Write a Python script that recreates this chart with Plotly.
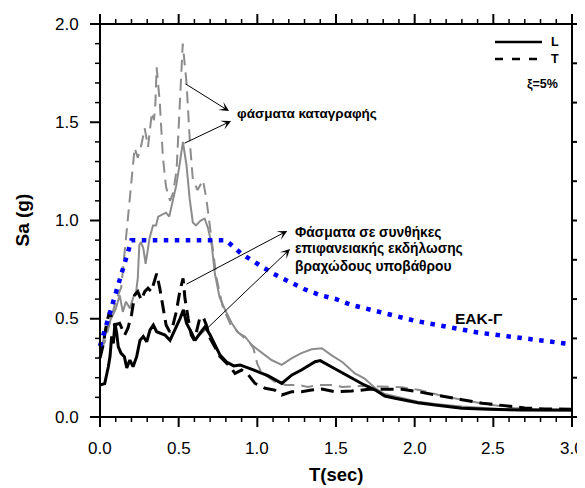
import plotly.graph_objects as go

# ---------------- data ----------------
# Recorded spectrum, T component (gray dashed)
rec_T_t = [0.00, 0.03, 0.07, 0.10, 0.135, 0.167, 0.20, 0.22, 0.24, 0.263, 0.284, 0.305, 0.33, 0.343,
           0.352, 0.36, 0.38, 0.40, 0.42, 0.445, 0.465, 0.487, 0.51, 0.526, 0.55, 0.572, 0.59, 0.62,
           0.655, 0.676, 0.697, 0.718, 0.74, 0.78, 0.83, 0.88, 0.95, 0.975, 1.0, 1.03, 1.05, 1.11,
           1.18, 1.26, 1.32, 1.39, 1.47, 1.54, 1.65, 1.78, 1.92, 2.03, 2.2, 2.42, 2.63, 2.84, 3.0]
rec_T_sa = [0.34, 0.38, 0.50, 0.59, 0.66, 0.91, 1.20, 1.37, 1.32, 1.385, 1.47, 1.375, 1.55, 1.51,
            1.595, 1.78, 1.60, 1.32, 1.17, 1.10, 1.14, 1.26, 1.61, 1.90, 1.70, 1.39, 1.21, 1.155,
            1.205, 1.11, 0.98, 0.84, 0.71, 0.56, 0.47, 0.43, 0.38, 0.35, 0.27, 0.22, 0.214, 0.18,
            0.163, 0.163, 0.153, 0.163, 0.163, 0.153, 0.158, 0.155, 0.151, 0.137, 0.103, 0.07, 0.046, 0.036, 0.035]

# Recorded spectrum, L component (gray solid)
rec_L_t = [0.00, 0.03, 0.07, 0.10, 0.125, 0.145, 0.165, 0.19, 0.21, 0.23, 0.24, 0.25, 0.26, 0.275,
           0.29, 0.315, 0.337, 0.356, 0.37, 0.40, 0.42, 0.44, 0.465, 0.485, 0.505, 0.527, 0.55, 0.57,
           0.59, 0.61, 0.64, 0.665, 0.687, 0.71, 0.73, 0.76, 0.795, 0.837, 0.877, 0.92, 0.964, 1.03,
           1.09, 1.155, 1.22, 1.28, 1.345, 1.41, 1.47, 1.54, 1.62, 1.68, 1.75, 1.81, 1.92, 2.02,
           2.13, 2.30, 2.63, 3.0]
rec_L_sa = [0.33, 0.42, 0.50, 0.55, 0.62, 0.535, 0.587, 0.553, 0.605, 0.64, 0.705, 0.875, 0.89, 0.86,
            0.78, 0.91, 0.975, 0.975, 1.02, 1.03, 1.04, 1.02, 1.11, 1.18, 1.28, 1.40, 1.28, 1.11,
            0.99, 0.975, 1.0, 1.01, 0.96, 0.875, 0.73, 0.61, 0.545, 0.478, 0.43, 0.41, 0.367, 0.325,
            0.29, 0.265, 0.30, 0.325, 0.345, 0.35, 0.315, 0.28, 0.222, 0.197, 0.146, 0.117, 0.095, 0.078,
            0.066, 0.053, 0.036, 0.032]

# Rock-outcrop spectrum, L component (black solid)
rock_L_t = [0.00, 0.03, 0.053, 0.064, 0.074, 0.085, 0.095, 0.106, 0.116, 0.133, 0.155, 0.17, 0.19,
            0.21, 0.233, 0.254, 0.275, 0.297, 0.318, 0.339, 0.36, 0.38, 0.413, 0.445, 0.477, 0.51,
            0.53, 0.55, 0.583, 0.604, 0.636, 0.668, 0.70, 0.73, 0.763, 0.805, 0.85, 0.89, 0.943,
            1.006, 1.07, 1.13, 1.155, 1.22, 1.28, 1.367, 1.40, 1.47, 1.54, 1.62, 1.68, 1.75, 1.81,
            1.875, 2.02, 2.13, 2.30, 2.47, 2.68, 3.0]
rock_L_sa = [0.163, 0.17, 0.256, 0.31, 0.41, 0.375, 0.478, 0.427, 0.358, 0.325, 0.307, 0.25, 0.29,
             0.256, 0.307, 0.39, 0.41, 0.383, 0.443, 0.468, 0.434, 0.427, 0.417, 0.39, 0.443, 0.503,
             0.545, 0.477, 0.427, 0.39, 0.427, 0.46, 0.417, 0.37, 0.315, 0.28, 0.26, 0.265, 0.25,
             0.23, 0.209, 0.18, 0.171, 0.214, 0.239, 0.281, 0.287, 0.256, 0.224, 0.188, 0.163, 0.137, 0.107,
             0.095, 0.073, 0.061, 0.044, 0.04, 0.035, 0.035]

# Rock-outcrop spectrum, T component (black dashed)
rock_T_t = [0.00, 0.02, 0.04, 0.06, 0.093, 0.125, 0.157, 0.178, 0.20, 0.22, 0.24, 0.263, 0.284, 0.305,
            0.326, 0.348, 0.36, 0.38, 0.40, 0.42, 0.443, 0.464, 0.485, 0.507, 0.528, 0.54, 0.56, 0.58,
            0.60, 0.634, 0.655, 0.676, 0.70, 0.763, 0.826, 0.858, 0.90, 0.943, 0.985, 1.05, 1.11,
            1.155, 1.22, 1.28, 1.345, 1.41, 1.49, 1.60, 1.71, 1.81, 1.92, 2.02, 2.13, 2.24, 2.30,
            2.43, 2.57, 2.70, 2.83, 3.0]
rock_T_sa = [0.30, 0.366, 0.468, 0.536, 0.468, 0.477, 0.417, 0.453, 0.519, 0.62, 0.638, 0.595, 0.638, 0.656,
             0.638, 0.706, 0.73, 0.655, 0.555, 0.468, 0.434, 0.468, 0.536, 0.638, 0.706, 0.604, 0.503, 0.417,
             0.39, 0.503, 0.51, 0.468, 0.40, 0.307, 0.256, 0.222, 0.239, 0.214, 0.171, 0.146, 0.137,
             0.112, 0.129, 0.129, 0.137, 0.142, 0.129, 0.132, 0.141, 0.141, 0.141, 0.129, 0.112, 0.095, 0.088,
             0.07, 0.056, 0.046, 0.041, 0.04]

# EAK design spectrum, ground category Γ (blue dotted)
eak_t = [0.00, 0.20, 0.80, 0.90, 1.00, 1.10, 1.20, 1.30, 1.40, 1.50, 1.60, 1.70, 1.80, 1.90, 2.00,
         2.20, 2.40, 2.60, 2.80, 3.00]
eak_sa = [0.36, 0.90, 0.90, 0.83, 0.78, 0.73, 0.69, 0.65, 0.62, 0.60, 0.57, 0.55, 0.53, 0.51, 0.49,
          0.46, 0.43, 0.41, 0.39, 0.37]

# axis extents and tick values
x_lim = [0.0, 3.0]
y_lim = [0.0, 2.0]
x_major = [0.0, 0.5, 1.0, 1.5, 2.0, 2.5, 3.0]
x_minor = [round(0.1 * i, 1) for i in range(31) if i % 5 != 0]
y_major = [0.0, 0.5, 1.0, 1.5, 2.0]
y_minor = [round(0.1 * i, 1) for i in range(21) if i % 5 != 0]
y_right = [round(0.2 * i, 1) for i in range(11)]

# ---------------- geometry (page pixels) ----------------
PAGE_OFF = 8                       # body margin of the page
FR_L, FR_R, FR_T, FR_B = 100, 572, 24, 417   # frame of the chart
PA_L, PA_R, PA_T, PA_B = 88, 585, 12, 430    # plotly plot area (frame + tick room)
SX = (FR_R - FR_L) / (x_lim[1] - x_lim[0])   # px per second
SY = (FR_B - FR_T) / (y_lim[1] - y_lim[0])   # px per g

def X(px):
    return x_lim[0] + (px - FR_L) / SX

def Y(py):
    return y_lim[0] + (FR_B - py) / SY

FONT = "Arial"
GRAY = "#8c8c8c"

fig = go.Figure()
fig.add_trace(go.Scatter(x=rec_T_t, y=rec_T_sa, mode="lines",
                         line=dict(color=GRAY, width=2, dash="12px,7px"), showlegend=False))
fig.add_trace(go.Scatter(x=rec_L_t, y=rec_L_sa, mode="lines",
                         line=dict(color=GRAY, width=2), showlegend=False))
fig.add_trace(go.Scatter(x=rock_T_t, y=rock_T_sa, mode="lines",
                         line=dict(color="black", width=3, dash="13px,7px"), showlegend=False))
fig.add_trace(go.Scatter(x=rock_L_t, y=rock_L_sa, mode="lines",
                         line=dict(color="black", width=3), showlegend=False))
fig.add_trace(go.Scatter(x=eak_t, y=eak_sa, mode="lines",
                         line=dict(color="#0000ff", width=4.5, dash="4.5px,6.5px"), showlegend=False))

W, H = 585 - PAGE_OFF, 488 - PAGE_OFF
fig.update_layout(
    width=W, height=H,
    margin=dict(l=PA_L - PAGE_OFF, r=585 - PA_R, t=PA_T - PAGE_OFF, b=488 - PA_B, autoexpand=False),
    paper_bgcolor="white", plot_bgcolor="white",
    showlegend=False,
    xaxis=dict(range=[X(PA_L), X(PA_R)], visible=True, showticklabels=False, ticks="",
               showline=False, showgrid=False, zeroline=False),
    yaxis=dict(range=[Y(PA_B), Y(PA_T)], visible=True, showticklabels=False, ticks="",
               showline=False, showgrid=False, zeroline=False),
)

# ---- frame and tick marks (drawn through the data scales, inside the plot area) ----
shapes = [dict(type="rect", xref="x", yref="y", x0=x_lim[0], x1=x_lim[1], y0=y_lim[0], y1=y_lim[1],
               line=dict(color="black", width=2))]

def tick(x0, y0, x1, y1, w):
    shapes.append(dict(type="line", xref="x", yref="y", x0=x0, y0=y0, x1=x1, y1=y1,
                       line=dict(color="black", width=w)))

for vals, ln, w in [(x_major, 10, 2), (x_minor, 5, 1.5)]:
    for v in vals:
        tick(v, y_lim[0], v, y_lim[0] - ln / SY, w)     # bottom, pointing down
        tick(v, y_lim[1], v, y_lim[1] + ln / SY, w)     # top, pointing up
for vals, ln, w in [(y_major, 10, 2), (y_minor, 5, 1.5)]:
    for v in vals:
        tick(x_lim[0], v, x_lim[0] - ln / SX, v, w)     # left
for v in y_right:
    tick(x_lim[1], v, x_lim[1] + 10 / SX, v, 2)          # right, every 0.2

# legend line samples
shapes.append(dict(type="line", xref="x", yref="y", x0=X(495), x1=X(542), y0=Y(42), y1=Y(42),
                   line=dict(color="black", width=2.5)))
shapes.append(dict(type="line", xref="x", yref="y", x0=X(495), x1=X(542), y0=Y(59), y1=Y(59),
                   line=dict(color="black", width=2.5, dash="8px,9px")))
fig.update_layout(shapes=shapes)

ann = []
# tick labels
for v in x_major:
    ann.append(dict(text=f"{v:.1f}", x=v, y=y_lim[0], xref="x", yref="y", xanchor="center",
                    yanchor="middle", yshift=-31, showarrow=False,
                    font=dict(family=FONT, size=17, color="black")))
for v in y_major:
    ann.append(dict(text=f"{v:.1f}", x=x_lim[0], y=v, xref="x", yref="y", xanchor="right",
                    yanchor="middle", xshift=-19, showarrow=False,
                    font=dict(family=FONT, size=17, color="black")))

# axis titles
ann.append(dict(text="<b>T(sec)</b>", x=1.5, y=y_lim[0], xref="x", yref="y", xanchor="center",
                yanchor="middle", yshift=-57, showarrow=False,
                font=dict(family=FONT, size=18.5, color="black")))
ann.append(dict(text="<b>Sa (g)</b>", x=x_lim[0], y=1.0, xref="x", yref="y", xanchor="center",
                yanchor="middle", xshift=-78, textangle=-90, showarrow=False,
                font=dict(family=FONT, size=19, color="black")))

# arrows (head near text, tail on curves)
arrows = [((0.82, 1.557), (0.534, 1.70)),
          ((0.833, 1.506), (0.528, 1.39)),
          ((1.19, 0.947), (0.54, 0.672)),
          ((1.208, 0.855), (0.604, 0.392))]
for (hx, hy), (tx, ty) in arrows:
    ann.append(dict(x=hx, y=hy, ax=tx, ay=ty, xref="x", yref="y", axref="x", ayref="y", text="",
                    showarrow=True, arrowhead=3, arrowsize=1.6, arrowwidth=1, arrowcolor="black"))

ann.append(dict(text="<b>φάσματα καταγραφής</b>", x=0.858, y=1.547, xref="x", yref="y",
                xanchor="left", yanchor="middle", showarrow=False,
                font=dict(family=FONT, size=13.5, color="black")))
for txt, yy in [("Φάσματα σε συνθήκες", 0.941), ("επιφανειακής εκδήλωσης", 0.855),
                ("βραχώδους υποβάθρου", 0.768)]:
    ann.append(dict(text="<b>" + txt + "</b>", x=1.227, y=yy, xref="x", yref="y",
                    xanchor="left", yanchor="middle", showarrow=False,
                    font=dict(family=FONT, size=13.8, color="black")))
ann.append(dict(text="<b>ΕΑΚ-Γ</b>", x=2.41, y=0.499, xref="x", yref="y", xanchor="center",
                yanchor="middle", showarrow=False, font=dict(family=FONT, size=15.5, color="black")))

# legend texts
ann.append(dict(text="<b>L</b>", x=X(549), y=Y(42), xref="x", yref="y", xanchor="left",
                yanchor="middle", showarrow=False, font=dict(family=FONT, size=12.5, color="black")))
ann.append(dict(text="<b>T</b>", x=X(549), y=Y(59), xref="x", yref="y", xanchor="left",
                yanchor="middle", showarrow=False, font=dict(family=FONT, size=12.5, color="black")))
ann.append(dict(text="<b>ξ=5%</b>", x=X(542.5), y=Y(84), xref="x", yref="y", xanchor="center",
                yanchor="middle", showarrow=False, font=dict(family=FONT, size=12.5, color="black")))
fig.update_layout(annotations=ann)

fig.write_html("out.html")
